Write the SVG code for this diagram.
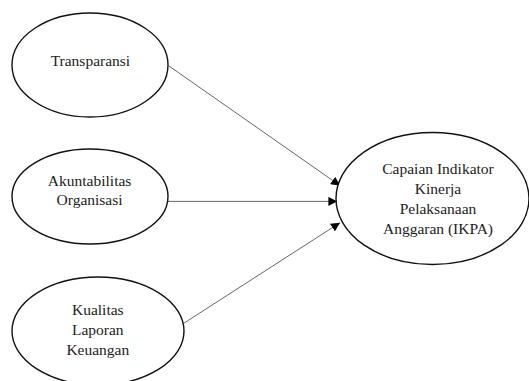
<svg xmlns="http://www.w3.org/2000/svg" width="529" height="381" viewBox="0 0 529 381">
<style>
.node ellipse{fill:#fff;stroke:#111;stroke-width:1.4}
.node text{font-family:'Liberation Serif','Times New Roman','DejaVu Serif',serif;font-size:15.5px;fill:#222;text-anchor:middle}
.edge{stroke:#555;stroke-width:0.9;fill:none;marker-end:url(#arr)}
</style>
<defs>
<marker id="arr" viewBox="0 0 10 10" refX="10" refY="5" markerWidth="9" markerHeight="9" markerUnits="userSpaceOnUse" orient="auto">
<path d="M0,0 L10,5 L0,10 z" fill="#000"/>
</marker>
</defs>
<rect width="529" height="381" fill="#fff"/>
<g id="connectors">
<line class="edge" x1="168.7" y1="65.8" x2="340" y2="185.6"/>
<line class="edge" x1="168" y1="201.4" x2="337.4" y2="201.4"/>
<line class="edge" x1="183.9" y1="323.2" x2="340" y2="222.7"/>
</g>
<g id="transparansi" class="node">
<ellipse cx="90" cy="65" rx="78" ry="52"/>
<text x="90.4" y="66" font-family="Liberation Serif">Transparansi</text>
</g>
<g id="akuntabilitas" class="node">
<ellipse cx="90" cy="196.5" rx="78" ry="47.5"/>
<text x="89.6" y="186">Akuntabilitas</text>
<text x="89.6" y="205">Organisasi</text>
</g>
<g id="kualitas" class="node">
<ellipse cx="98" cy="331" rx="86" ry="54"/>
<text x="97.8" y="315">Kualitas</text>
<text x="97.8" y="334.5">Laporan</text>
<text x="97.8" y="354.5">Keuangan</text>
</g>
<g id="ikpa" class="node">
<ellipse cx="432.5" cy="198.5" rx="96.5" ry="66"/>
<text x="438" y="174">Capaian Indikator</text>
<text x="438" y="193.5">Kinerja</text>
<text x="438" y="213.5">Pelaksanaan</text>
<text x="438" y="234">Anggaran (IKPA)</text>
</g>
</svg>
